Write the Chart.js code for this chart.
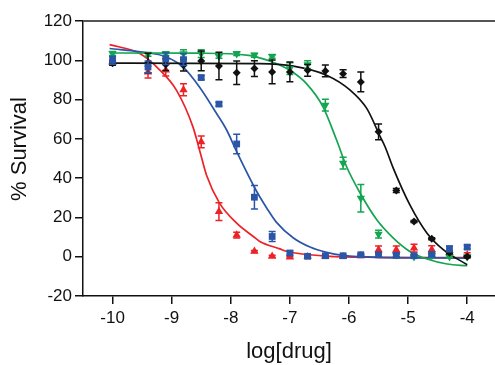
<!DOCTYPE html>
<html>
<head>
<meta charset="utf-8">
<script src="https://cdn.jsdelivr.net/npm/chart.js@4.4.0/dist/chart.umd.min.js"></script>
<style>
html, body { margin: 0; padding: 0; background: #fff; }
</style>
</head>
<body>
<canvas id="myChart" width="495" height="365"></canvas>
<script>
// log dose of each measured point
const doses = [-10, -9.4, -9.1, -8.8, -8.5, -8.2, -7.9, -7.6, -7.3, -7.0, -6.7, -6.4, -6.1, -5.8, -5.5, -5.2, -4.9, -4.6, -4.3, -4.0];

const redValues   = [99, 94, 95, 85, 58.5, 23, 11, 2.7, 0.2, -0.2, 0, 0, 0, 0.5, 3.5, 3.5, 4.4, 3.6, 2, 1];
const redErrors   = [1, 3, 3, 3, 3, 4.5, 1.5, 0.5, 0.5, 0.5, 0.5, 0.5, 0.5, 0.5, 2, 2, 2, 2, 1, 1];
const blueValues  = [100, 96.6, 100.8, 100.3, 91.2, 77.7, 57.4, 30.3, 10.3, 1.9, 0.2, 0.5, 0.5, 1, 1, 0.7, 0.5, 1.2, 4, 4.9];
const blueErrors  = [2, 3, 3, 3, 1, 1, 5, 6, 2.5, 1, 0.5, 0.5, 0.5, 0.5, 1, 1, 0.5, 1, 1.5, 1];
const greenValues = [103.5, 103, 103.4, 103.4, 103.4, 102, 103.4, 102.6, 102, 95.8, 97.8, 77.2, 47.6, 29.8, 11.5, 1, 0, 0.5, 0, 0];
const greenErrors = [1, 1, 1, 2, 2, 1, 1, 1, 1, 3, 2, 3, 3, 7, 2, 1, 0.5, 0.5, 0.5, 0.5];
const blackValues = [98.5, 98.6, 97.8, 97.5, 99.7, 97.1, 93.7, 95.8, 94.1, 94.1, 94.9, 94.6, 93.2, 89, 63.6, 33.7, 17.9, 9.1, 2, 0];
const blackErrors = [1, 5, 3, 3, 5, 7, 6, 4, 6, 5, 3, 3, 2, 5, 4, 1, 0.5, 0.5, 0.5, 0.5];

// fitted curves
const redFitX   = [-10.05, -9.54, -9.2, -8.92, -8.64, -8.53, -8.41, -8.19, -7.9, -7.62, -7.51, -7.17, -7.06, -6.38, -5.5, -4];
const redFitY   = [108, 103.4, 95, 84.8, 66.1, 54.5, 41.5, 27.3, 17.1, 10.3, 7.8, 4, 2.8, 0.3, -0.3, -0.5];
const blueFitX  = [-10.05, -9.49, -9.09, -8.81, -8.53, -8.24, -8.07, -7.9, -7.62, -7.51, -7.39, -7.23, -6.94, -6.66, -6.38, -6.1, -5.5, -4];
const blueFitY  = [106, 104.2, 101.7, 96.6, 86.4, 72.9, 64.5, 53.5, 36.5, 30.5, 24.7, 17.6, 9.5, 4.9, 2.2, 0.7, -0.3, -0.7];
const greenFitX = [-10.05, -8.5, -7.7, -7.51, -7.31, -7.0, -6.72, -6.44, -6.21, -6.04, -5.81, -5.53, -5.25, -4.97, -4.68, -4.34, -4.0];
const greenFitY = [103.7, 103.6, 102.5, 101.2, 99.3, 94.9, 88.1, 76.3, 59.4, 45.8, 32.3, 18.8, 9.5, 2.7, -1.2, -3.7, -4.6];
const blackFitX = [-10.05, -7.51, -6.94, -6.38, -5.98, -5.7, -5.47, -5.39, -5.25, -4.97, -4.68, -4.4, -4.0];
const blackFitY = [98.6, 98.3, 97, 92.4, 84.8, 75.5, 61, 56, 45, 26.4, 12, 3.5, -4.1];

const xTickValues = [-10, -9, -8, -7, -6, -5, -4];

const RED = '#ec2227', BLUE = '#2b55a6', GREEN = '#13a54f', BLACK = '#111111';
const FONT = 'Liberation Sans, Arial, Helvetica, sans-serif';

const pts = vals => vals.map((v, i) => ({ x: doses[i], y: v }));
const curve = (xs, ys) => xs.map((x, i) => ({ x, y: ys[i] }));

const pointSet = (label, vals, errs, color, style, rotation, order) => ({
    label,
    data: pts(vals),
    errors: errs,
    showLine: false,
    borderColor: color,
    backgroundColor: color,
    borderWidth: 0,
    pointStyle: style,
    pointRotation: rotation,
    pointRadius: style === 'rectRot' ? 4 : 4.8,
    order,
});

const curveSet = (xs, ys, color, order) => ({
    data: curve(xs, ys),
    showLine: true,
    borderColor: color,
    borderWidth: 1.7,
    pointRadius: 0,
    cubicInterpolationMode: 'monotone',
    order,
});

// error bars drawn just under each point dataset
const errorBars = {
    id: 'errorBars',
    beforeDatasetDraw(chart, args) {
        const ds = chart.data.datasets[args.index];
        if (!ds.errors) return;
        const { ctx, scales: { x, y } } = chart;
        ctx.save();
        ctx.strokeStyle = ds.borderColor;
        ctx.lineWidth = 1.5;
        ds.data.forEach((p, i) => {
            const e = ds.errors[i];
            const px = x.getPixelForValue(p.x);
            const top = y.getPixelForValue(p.y + e);
            const bot = y.getPixelForValue(p.y - e);
            ctx.beginPath();
            ctx.moveTo(px, top); ctx.lineTo(px, bot);
            ctx.moveTo(px - 3.5, top); ctx.lineTo(px + 3.5, top);
            ctx.moveTo(px - 3.5, bot); ctx.lineTo(px + 3.5, bot);
            ctx.stroke();
        });
        ctx.restore();
    }
};

// top frame line and the y axis title
const frame = {
    id: 'frame',
    afterDraw(chart) {
        const { ctx, chartArea: a } = chart;
        ctx.save();
        ctx.strokeStyle = '#555';
        ctx.lineWidth = 2;
        ctx.beginPath();
        ctx.moveTo(a.left, a.top);
        ctx.lineTo(a.right, a.top);
        ctx.stroke();
        ctx.translate(20, 149);
        ctx.rotate(-Math.PI / 2);
        ctx.fillStyle = '#111';
        ctx.font = '22px ' + FONT;
        ctx.textAlign = 'center';
        ctx.textBaseline = 'middle';
        ctx.fillText('% Survival', 0, 0);
        ctx.restore();
    }
};

const ctx = document.getElementById('myChart');
const myChart = new Chart(ctx, {
    type: 'scatter',
    data: {
        datasets: [
            curveSet(redFitX, redFitY, RED, 8),
            curveSet(blueFitX, blueFitY, BLUE, 7),
            curveSet(greenFitX, greenFitY, GREEN, 6),
            curveSet(blackFitX, blackFitY, BLACK, 5),
            pointSet('red', redValues, redErrors, RED, 'triangle', 0, 4),
            pointSet('green', greenValues, greenErrors, GREEN, 'triangle', 180, 3),
            pointSet('black', blackValues, blackErrors, BLACK, 'rectRot', 0, 2),
            pointSet('blue', blueValues, blueErrors, BLUE, 'rect', 0, 1),
        ]
    },
    options: {
        responsive: false,
        animation: false,
        layout: { autoPadding: false, padding: { top: 21, right: 0, left: 0, bottom: 0 } },
        plugins: {
            legend: { display: false },
            tooltip: { enabled: false },
        },
        scales: {
            x: {
                type: 'linear',
                min: -10.5,
                max: -3.53,
                afterBuildTicks: s => { s.ticks = xTickValues.map(v => ({ value: v })); },
                afterFit: s => { s.height = 69; s.paddingRight = 0; s.paddingLeft = 0; },
                grid: { drawOnChartArea: false, tickLength: 8, color: BLACK, lineWidth: 1.5 },
                border: { color: BLACK, width: 1.5 },
                ticks: { color: BLACK, font: { family: FONT, size: 17 }, padding: 4, maxRotation: 0 },
                title: { display: true, text: 'log[drug]', color: BLACK, font: { family: FONT, size: 22 }, padding: { top: 4, bottom: 0 } },
            },
            y: {
                min: -20,
                max: 120,
                afterFit: s => { s.width = 83; s.paddingTop = 0; },
                grid: { drawOnChartArea: false, tickLength: 8, color: BLACK, lineWidth: 1.5 },
                border: { color: BLACK, width: 1.5 },
                ticks: { stepSize: 20, color: BLACK, font: { family: FONT, size: 17 }, padding: 3 },
            }
        }
    },
    plugins: [errorBars, frame],
});
</script>
</body>
</html>
